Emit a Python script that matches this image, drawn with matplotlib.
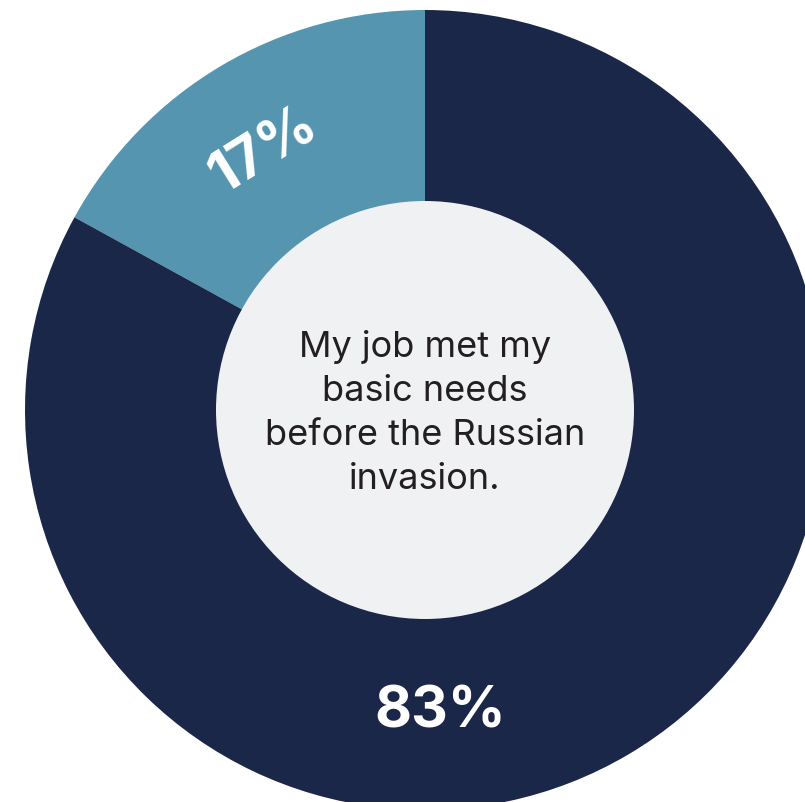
import matplotlib.pyplot as plt

labels = ["17%", "83%"]
values = [17, 83]
colors = ["#5595b0", "#1b2749"]
center_text = "My job met my\nbasic needs\nbefore the Russian\ninvasion."

fig = plt.figure(figsize=(8.05, 8.02), dpi=100)
ax = fig.add_axes([0, 0, 1, 1])

# pie in pixel coordinates (y up), centre of the donut at (425, 392)
ax.pie(values, colors=colors, startangle=90, counterclock=True,
       center=(425, 392), radius=400, frame=True,
       wedgeprops=dict(linewidth=0))
ax.add_patch(plt.Circle((425, 392), 209, color="#f0f1f3", lw=0))

ax.text(264, 802 - 151, labels[0], color="white", fontsize=41, fontweight="bold",
        family="Inter", rotation=32, ha="center", va="center")
ax.text(440, 802 - 713, labels[1], color="white", fontsize=41, fontweight="bold",
        family="Inter", ha="center", va="center")
ax.text(425, 802 - 413, center_text, color="#231f20", fontsize=26, family="Inter",
        ha="center", va="center", linespacing=1.42)

ax.set_xlim(0, 805)
ax.set_ylim(0, 802)
ax.set_aspect("equal")
ax.axis("off")
fig.savefig("out.png", dpi=100)
